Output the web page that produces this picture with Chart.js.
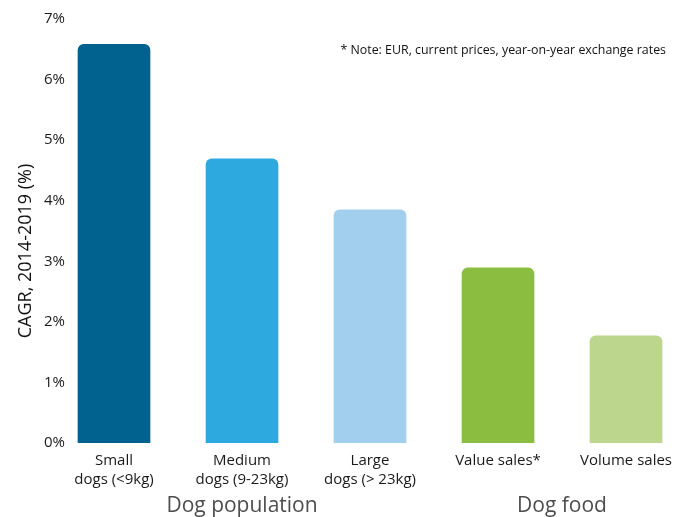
<!DOCTYPE html>
<html>
<head>
<meta charset="utf-8">
<script src="https://cdn.jsdelivr.net/npm/chart.js@4/dist/chart.umd.min.js"></script>
<style>
  html, body { margin: 0; padding: 0; background: #fff; overflow: hidden; }
  #wrap { width: 684px; height: 517px; }
</style>
</head>
<body>
<div id="wrap"><canvas id="chart"></canvas></div>
<script>
// data
const categories = [["Small", "dogs (<9kg)"], ["Medium", "dogs (9-23kg)"], ["Large", "dogs (> 23kg)"], "Value sales*", "Volume sales"];
const cagrValues = [6.58, 4.69, 3.85, 2.89, 1.77];
const barColors = ["#01628f", "#2ea9df", "#a3cfef", "#8bbd40", "#bcd68e"];
const groupNames = ["Dog population", "Dog food"];
const groupCenters = [1, 3.5]; // in category index units
const yTicks = [0, 1, 2, 3, 4, 5, 6, 7];
const noteText = "* Note: EUR, current prices, year-on-year exchange rates";
const yTitle = "CAGR, 2014-2019 (%)";

const FONT = "'Open Sans', 'Noto Sans', sans-serif";

// extra labels: group names, note, y axis title
const extraText = {
  id: "extraText",
  afterDraw(chart) {
    const ctx = chart.ctx;
    const x = chart.scales.x;
    const area = chart.chartArea;
    ctx.save();
    ctx.fillStyle = "#4d4d4d";
    ctx.font = "21px " + FONT;
    ctx.textAlign = "center";
    ctx.textBaseline = "middle";
    groupNames.forEach((g, i) => {
      ctx.fillText(g, x.getPixelForValue(groupCenters[i]), 506);
    });

    ctx.fillStyle = "#111";
    ctx.font = "12.4px " + FONT;
    ctx.textAlign = "right";
    ctx.fillText(noteText, area.right - 18, 50);

    ctx.font = "18px " + FONT;
    ctx.textAlign = "center";
    ctx.translate(26, 251);
    ctx.rotate(-Math.PI / 2);
    ctx.fillText(yTitle, 0, 0);
    ctx.restore();
  }
};

const ctx = document.getElementById("chart").getContext("2d");
new Chart(ctx, {
  type: "bar",
  data: {
    datasets: [
      {
        data: cagrValues.map((v, i) => ({ x: i, y: v })),
        backgroundColor: barColors,
        borderRadius: 6,
        barThickness: 72,
      },
    ],
  },
  options: {
    responsive: true,
    maintainAspectRatio: false,
    animation: false,
    layout: { padding: { top: 19, left: 0, right: 0, bottom: 0 } },
    plugins: {
      legend: { display: false },
      tooltip: { enabled: false },
    },
    scales: {
      x: {
        type: "linear",
        offset: false,
        min: -0.34375,
        max: 4.453,
        afterFit: (scale) => { scale.height = 74; },
        grid: { display: false, drawTicks: false, offset: false },
        border: { display: false },
        ticks: {
          stepSize: 1,
          includeBounds: false,
          maxRotation: 0,
          autoSkip: false,
          padding: 8,
          color: "#1a1a1a",
          font: { family: FONT, size: 15, lineHeight: 1.27 },
          callback: (value) => (Number.isInteger(value) ? categories[value] : ""),
        },
      },
      y: {
        min: 0,
        max: 7,
        afterFit: (scale) => { scale.width = 70; },
        afterBuildTicks: (scale) => { scale.ticks = yTicks.map((v) => ({ value: v })); },
        grid: { display: false, drawTicks: false },
        border: { display: false },
        ticks: {
          padding: 5,
          color: "#1a1a1a",
          font: { family: FONT, size: 15 },
          callback: (value) => value + "%",
        },
      },
    },
  },
  plugins: [extraText],
});
</script>
</body>
</html>
